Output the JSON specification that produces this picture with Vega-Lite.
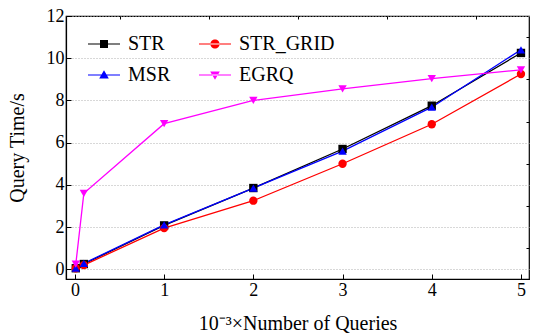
{
  "$schema": "https://vega.github.io/schema/vega-lite/v6.json",
  "width": 463,
  "height": 263,
  "autosize": {"type": "none"},
  "padding": {"left": 66, "top": 16, "right": 11, "bottom": 56},
  "background": "white",
  "config": {
    "view": {"stroke": "black", "strokeWidth": 1.2},
    "font": "Liberation Serif, Times New Roman, serif",
    "style": {"guide-label": {"font": "Liberation Serif, Times New Roman, serif"}},
    "legend": {"labelFont": "Liberation Serif, Times New Roman, serif", "labelFontSize": 20, "labelColor": "black"},
    "axis": {
      "labelFont": "Liberation Serif, Times New Roman, serif",
      "titleFont": "Liberation Serif, Times New Roman, serif",
      "labelFontSize": 18,
      "titleFontSize": 20,
      "titleFontWeight": "normal",
      "labelColor": "black",
      "titleColor": "black",
      "domainColor": "black",
      "tickColor": "black",
      "domainWidth": 1.2
    }
  },
  "data": {
    "values": [
      {"series": "STR", "x": 0.01, "y": 0.05},
      {"series": "STR", "x": 0.1, "y": 0.25},
      {"series": "STR", "x": 1, "y": 2.08},
      {"series": "STR", "x": 2, "y": 3.85},
      {"series": "STR", "x": 3, "y": 5.7},
      {"series": "STR", "x": 4, "y": 7.75},
      {"series": "STR", "x": 5, "y": 10.25},
      {"series": "STR_GRID", "x": 0.01, "y": 0.05},
      {"series": "STR_GRID", "x": 0.1, "y": 0.2},
      {"series": "STR_GRID", "x": 1, "y": 1.95},
      {"series": "STR_GRID", "x": 2, "y": 3.25},
      {"series": "STR_GRID", "x": 3, "y": 5.0},
      {"series": "STR_GRID", "x": 4, "y": 6.87},
      {"series": "STR_GRID", "x": 5, "y": 9.25},
      {"series": "MSR", "x": 0.01, "y": 0.05},
      {"series": "MSR", "x": 0.1, "y": 0.28},
      {"series": "MSR", "x": 1, "y": 2.1},
      {"series": "MSR", "x": 2, "y": 3.85},
      {"series": "MSR", "x": 3, "y": 5.6},
      {"series": "MSR", "x": 4, "y": 7.68},
      {"series": "MSR", "x": 5, "y": 10.4},
      {"series": "EGRQ", "x": 0.01, "y": 0.25},
      {"series": "EGRQ", "x": 0.1, "y": 3.6},
      {"series": "EGRQ", "x": 1, "y": 6.9},
      {"series": "EGRQ", "x": 2, "y": 8.0},
      {"series": "EGRQ", "x": 3, "y": 8.55},
      {"series": "EGRQ", "x": 4, "y": 9.03},
      {"series": "EGRQ", "x": 5, "y": 9.45}
    ]
  },
  "layer": [
    {
      "mark": {"type": "line", "strokeWidth": 1.3, "clip": true},
      "encoding": {
        "x": {
          "field": "x", "type": "quantitative",
          "scale": {"domain": [-0.1, 5.09], "nice": false, "zero": false},
          "axis": {
            "title": "10⁻³×Number of Queries",
            "values": [0, 1, 2, 3, 4, 5],
            "format": "d",
            "tickSize": -5,
            "labelPadding": 7,
            "titlePadding": 14,
            "grid": false
          }
        },
        "y": {
          "field": "y", "type": "quantitative",
          "scale": {"domain": [-0.46, 12], "nice": false, "zero": false},
          "axis": {
            "title": "Query Time/s",
            "values": [0, 2, 4, 6, 8, 10, 12],
            "tickSize": -5,
            "labelPadding": 7,
            "titlePadding": 19,
            "grid": true,
            "gridColor": "#b0b0b0",
            "gridDash": [1, 2],
            "gridWidth": 1
          }
        },
        "color": {
          "field": "series", "type": "nominal",
          "scale": {"domain": ["STR", "STR_GRID", "MSR", "EGRQ"], "range": ["#000000", "#ff0000", "#0000ff", "#ff00ff"]},
          "legend": null
        },
        "order": {"field": "x", "type": "quantitative"}
      }
    },
    {
      "mark": {"type": "point", "filled": true, "opacity": 1, "size": 70},
      "encoding": {
        "x": {
          "field": "x", "type": "quantitative",
          "axis": {
            "title": null, "values": [0.5, 1.5, 2.5, 3.5, 4.5],
            "labels": false, "domain": false, "grid": false, "tickSize": -3
          }
        },
        "y": {
          "field": "y", "type": "quantitative",
          "axis": {
            "title": null, "values": [1, 3, 5, 7, 9, 11],
            "labels": false, "domain": false, "grid": false, "tickSize": -3
          }
        },
        "color": {
          "field": "series", "type": "nominal",
          "scale": {"domain": ["STR", "STR_GRID", "MSR", "EGRQ"], "range": ["#000000", "#ff0000", "#0000ff", "#ff00ff"]},
          "legend": null
        },
        "shape": {
          "field": "series", "type": "nominal",
          "scale": {"domain": ["STR", "STR_GRID", "MSR", "EGRQ"], "range": ["square", "circle", "triangle-up", "triangle-down"]},
          "legend": null
        }
      }
    },
    {
      "transform": [{"filter": "datum.x < -100"}],
      "mark": {"type": "point", "filled": true, "opacity": 1, "size": 64},
      "encoding": {
        "color": {
          "field": "series", "type": "nominal",
          "scale": {"domain": ["STR", "STR_GRID", "MSR", "EGRQ"], "range": ["#000000", "#ff0000", "#0000ff", "#ff00ff"]},
          "legend": {
            "title": null,
            "orient": "none",
            "direction": "horizontal",
            "legendX": 28,
            "legendY": 18,
            "columns": 2,
            "columnPadding": 25,
            "rowPadding": 11,
            "padding": 0,
            "labelFont": "Liberation Serif, Times New Roman, serif",
            "labelFontSize": 20,
            "labelColor": "black",
            "labelOffset": 14,
            "symbolSize": 64,
            "symbolOpacity": 1
          }
        },
        "shape": {
          "field": "series", "type": "nominal",
          "scale": {
            "domain": ["STR", "STR_GRID", "MSR", "EGRQ"],
            "range": [
              "M-4,-0.15H4V0.15H-4Z M-1,-1H1V1H-1Z",
              "M-4,-0.15H4V0.15H-4Z M-1.15,0A1.15,1.15,0,1,0,1.15,0A1.15,1.15,0,1,0,-1.15,0Z",
              "M-4,-0.15H4V0.15H-4Z M0,-1.2L1.2,0.9H-1.2Z",
              "M-4,-0.15H4V0.15H-4Z M0,1.2L1.2,-0.9H-1.2Z"
            ]
          },
          "legend": {
            "title": null,
            "orient": "none",
            "direction": "horizontal",
            "legendX": 28,
            "legendY": 18,
            "columns": 2,
            "columnPadding": 25,
            "rowPadding": 11,
            "padding": 0,
            "labelFont": "Liberation Serif, Times New Roman, serif",
            "labelFontSize": 20,
            "labelColor": "black",
            "labelOffset": 14,
            "symbolSize": 64,
            "symbolOpacity": 1
          }
        }
      }
    }
  ],
  "resolve": {
    "scale": {"color": "independent", "shape": "independent"},
    "axis": {"x": "independent", "y": "independent"}
  }
}
